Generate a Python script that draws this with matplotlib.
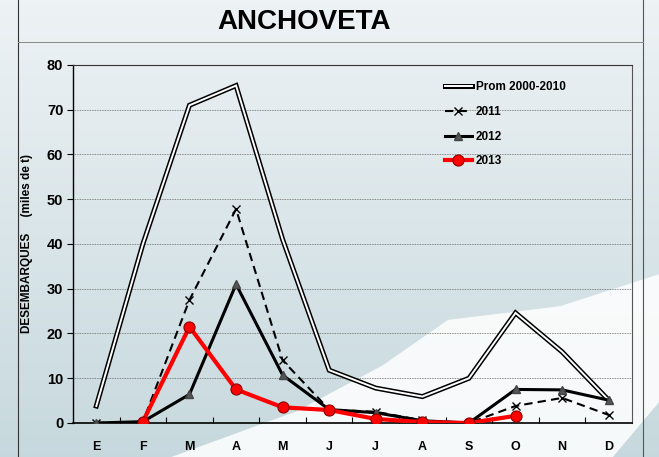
import numpy as np
import matplotlib
matplotlib.use("Agg")
from matplotlib import pyplot as plt
from matplotlib.patches import Polygon
from matplotlib.lines import Line2D

plt.rcParams['font.family'] = ['Liberation Sans', 'DejaVu Sans']

# data (miles de t)
months = ['E', 'F', 'M', 'A', 'M', 'J', 'J', 'A', 'S', 'O', 'N', 'D']
prom = [3.8, 40.0, 71.0, 75.4, 41.0, 11.8, 7.8, 5.9, 10.0, 24.6, 15.9, 5.1]
y2011 = [0.0, 0.3, 27.5, 47.8, 14.0, 3.0, 2.5, 0.6, 0.0, 3.8, 5.6, 1.8]
y2012 = [0.0, 0.3, 6.4, 31.0, 10.7, 3.0, 2.3, 0.5, 0.0, 7.5, 7.4, 5.1]
y2013 = [np.nan, 0.3, 21.5, 7.5, 3.5, 2.9, 0.9, 0.2, 0.0, 1.6, np.nan, np.nan]

fig = plt.figure(figsize=(6.59, 4.57), dpi=100)

# background: soft gradient with a white swoosh
bg = fig.add_axes([0, 0, 1, 1])
grad = np.linspace(0, 1, 200)[:, None] * np.ones((1, 10))
top = np.array([0.93, 0.95, 0.96])
mid = np.array([0.78, 0.85, 0.87])
img = top[None, None, :] * (1 - grad[:, :, None]) + mid[None, None, :] * grad[:, :, None]
bg.imshow(img, extent=[0, 1, 0, 1], aspect='auto', origin='upper')
bg.add_patch(Polygon([[0.26, 0.0], [0.45, 0.1], [0.58, 0.2], [0.68, 0.3],
                      [0.85, 0.33], [1.0, 0.4], [1.0, 0.12], [0.93, 0.0]],
                     closed=True, color='white', alpha=0.85, lw=0))
bg.axvline(0.028, color='#333333', lw=0.8)
bg.axvline(0.976, color='#555555', lw=0.8)
bg.plot([0.028, 0.976], [1 - 42 / 457] * 2, color='#888888', lw=0.7)
bg.set_xlim(0, 1)
bg.set_ylim(0, 1)
bg.axis('off')

ax = fig.add_axes([0.1108, 0.0744, 0.8482, 0.7834])
ax.patch.set_alpha(0)
x = np.arange(len(months))

# Prom as a double line
ax.plot(x, prom, color='black', lw=3.6, solid_joinstyle='miter', zorder=3)
ax.plot(x, prom, color='white', lw=1.4, solid_joinstyle='miter', zorder=3.1)
ax.plot(x, y2011, color='black', lw=1.5, ls=(0, (4, 2.5)), marker='x',
        ms=6, mew=1.0, zorder=4)
ax.plot(x, y2012, color='black', lw=2.2, marker='^', ms=6,
        mfc='#555555', mec='#444444', zorder=5)
ax.plot(x, y2013, color='red', lw=3.0, marker='o', ms=8,
        mfc='red', mec='#8b0000', mew=0.8, zorder=6)

ax.set_xlim(-0.5, 11.5)
ax.set_ylim(0, 80)
ax.set_yticks(np.arange(0, 81, 10))
ax.yaxis.grid(True, color='#666666', ls=(0, (1, 1)), lw=0.6)
ax.set_axisbelow(True)

ax.set_xticks(np.arange(0.5, 11, 1))
ax.set_xticklabels([])
ax.set_xticks(x, minor=True)
ax.set_xticklabels(months, minor=True, fontsize=9, fontweight='bold')
ax.tick_params(axis='x', which='major', direction='in', length=4, width=0.8)
ax.tick_params(axis='x', which='minor', length=0, pad=13)
ax.tick_params(axis='y', direction='out', length=4, width=0.8,
               labelsize=10.5, pad=3)
for lab in ax.get_yticklabels():
    lab.set_fontweight('bold')

ax.spines['left'].set_linewidth(1.0)
ax.spines['bottom'].set_linewidth(1.2)
ax.spines['top'].set_color('#333333')
ax.spines['right'].set_color('#555555')

ax.set_ylabel('DESEMBARQUES     (miles de t)', fontsize=8.5,
              fontweight='bold')
ax.yaxis.set_label_coords(-0.0716, 0.5)

fig.text(0.462, 0.951, 'ANCHOVETA', ha='center', va='center',
         fontsize=20, fontweight='bold')

# legend
h_prom = (Line2D([], [], color='black', lw=3.6),
          Line2D([], [], color='white', lw=1.4))
h11 = Line2D([], [], color='black', lw=1.5, ls=(0, (4, 2.5)), marker='x',
             ms=6, mew=1.0)
h12 = Line2D([], [], color='black', lw=2.2, marker='^', ms=6,
             mfc='#555555', mec='#444444')
h13 = Line2D([], [], color='red', lw=3.0, marker='o', ms=8,
             mfc='red', mec='#8b0000', mew=0.8)
ax.legend([h_prom, h11, h12, h13],
          ['Prom 2000-2010', '2011', '2012', '2013'],
          loc='upper left', bbox_to_anchor=(0.665, 0.954),
          borderaxespad=0, borderpad=0,
          frameon=False, handlelength=2.3, handletextpad=0.35,
          labelspacing=1.07, prop={'weight': 'bold', 'size': 8.5})

fig.savefig('out.png', dpi=100)
